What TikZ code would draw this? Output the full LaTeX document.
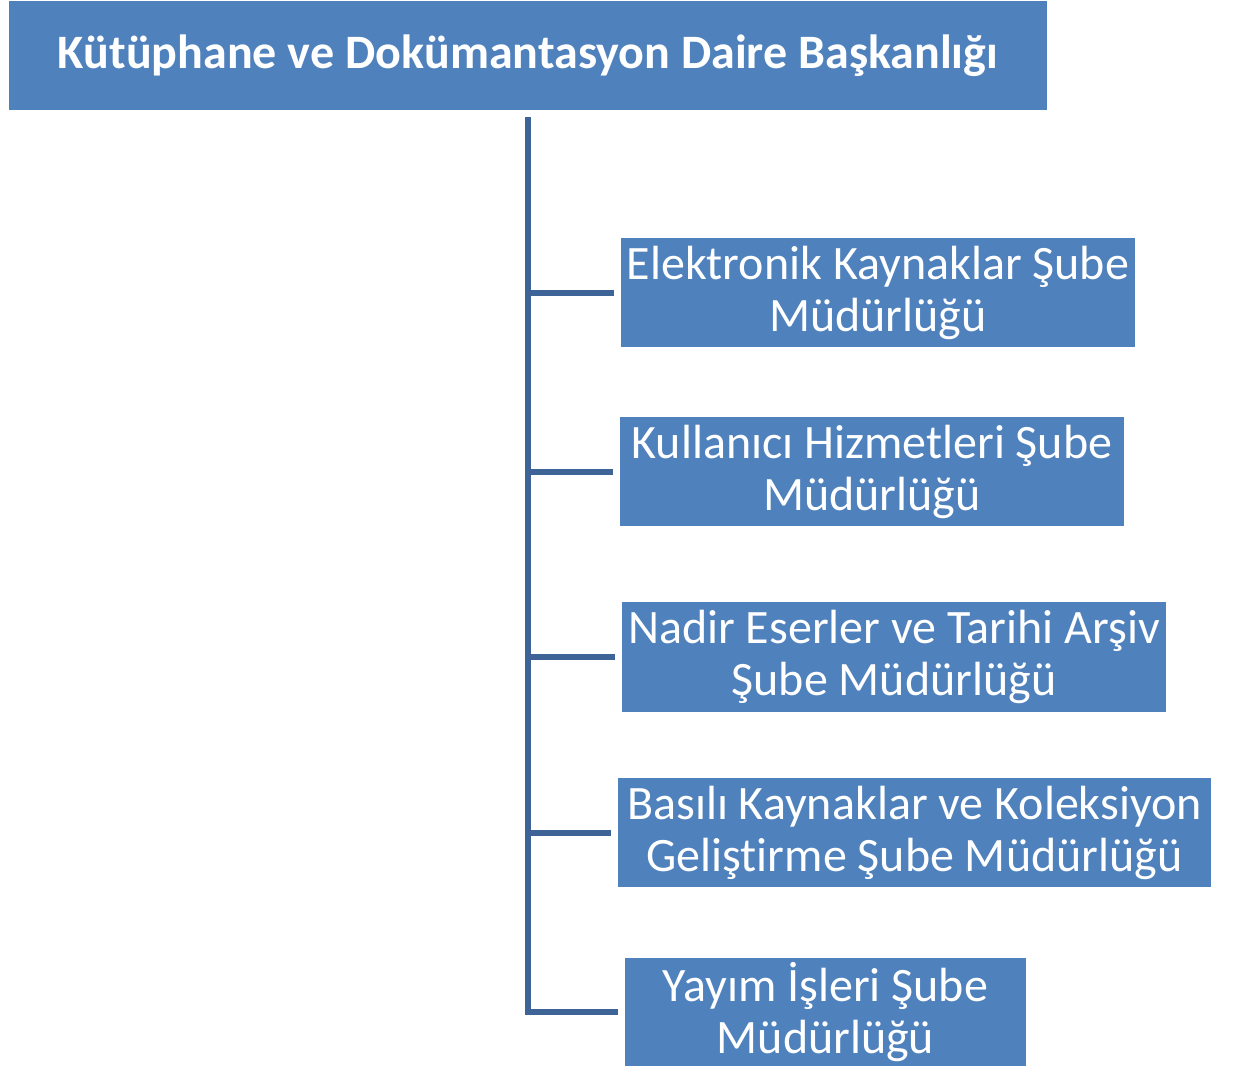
\documentclass[tikz,border=0pt]{standalone}
\usepackage{fontspec}
\setmainfont[Ligatures=NoCommon]{Carlito}
\definecolor{boxblue}{HTML}{4F81BD}
\definecolor{linkblue}{HTML}{3E6497}
\tikzset{
  unit/.style={fill=boxblue,text=white,inner sep=0pt,align=center,
    font=\fontsize{48}{52}\selectfont,minimum height=109pt},
  head/.style={unit,font=\bfseries\fontsize{48}{52}\selectfont},
  link/.style={draw=linkblue,line width=6pt}
}
\begin{document}
\begin{tikzpicture}[x=1pt,y=-1pt]
\useasboundingbox (0,0) rectangle (1235,1068);
\node[head,minimum width=1038pt] (daire) at (528,55.5) {Kütüphane ve Dokümantasyon Daire Başkanlığı};
\node[unit,minimum width=514pt] (elek) at (878,292.5) {Elektronik Kaynaklar Şube\\Müdürlüğü};
\node[unit,minimum width=504pt] (kull) at (872,471.5) {Kullanıcı Hizmetleri Şube\\Müdürlüğü};
\node[unit,minimum width=544pt,minimum height=110pt] (nadir) at (894,657) {Nadir Eserler ve Tarihi Arşiv\\Şube Müdürlüğü};
\node[unit,minimum width=593pt] (basili) at (914.5,832.5) {Basılı Kaynaklar ve Koleksiyon\\Geliştirme Şube Müdürlüğü};
\node[unit,minimum width=401pt,minimum height=108pt] (yayim) at (825.5,1012) {Yayım İşleri Şube\\Müdürlüğü};
% trunk and branches
\coordinate (trunk) at ([yshift=-7pt]daire.south);
\draw[link] (trunk) |- ([xshift=-7pt]yayim.west);
\foreach \b in {elek,kull,nadir,basili}
  \draw[link] (trunk |- \b.west) -- ([xshift=-7pt]\b.west);
\end{tikzpicture}
\end{document}
